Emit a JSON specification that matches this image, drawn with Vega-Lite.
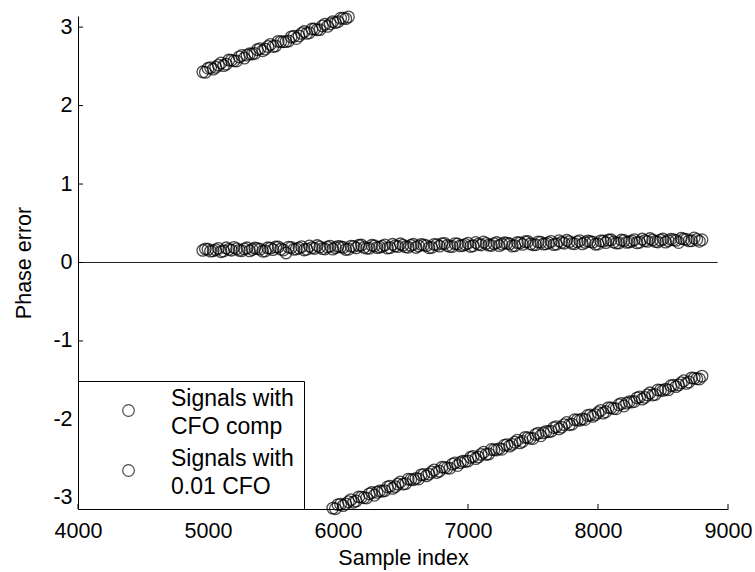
{
  "$schema": "https://vega.github.io/schema/vega-lite/v6.json",
  "width": 650,
  "height": 493,
  "autosize": {"type": "none"},
  "padding": {"left": 78, "top": 16, "right": 27, "bottom": 63},
  "background": "white",
  "config": {
    "font": "Liberation Sans",
    "view": {"stroke": null},
    "style": {"guide-label": {"lineHeight": 28}},
    "axis": {
      "grid": false,
      "domainColor": "black",
      "domainWidth": 1,
      "ticks": false,
      "labelFont": "Liberation Sans",
      "labelFontSize": 21.5,
      "labelColor": "black",
      "titleFont": "Liberation Sans",
      "titleFontSize": 21.5,
      "titleFontWeight": "normal",
      "titleColor": "black"
    }
  },
  "datasets": {
    "zero": [{"x0": 4000, "x1": 8920, "y": 0}],
    "xticks": [{"v": 4000}, {"v": 5000}, {"v": 6000}, {"v": 7000}, {"v": 8000}, {"v": 9000}],
    "yticks": [{"v": -3}, {"v": -2}, {"v": -1}, {"v": 0}, {"v": 1}, {"v": 2}, {"v": 3}],
    "pts": [
      {"x": 4960, "y": 0.155, "s": "A"}, {"x": 5000, "y": 0.168, "s": "A"}, {"x": 5040, "y": 0.150, "s": "A"}, {"x": 5080, "y": 0.179, "s": "A"},
      {"x": 5120, "y": 0.146, "s": "A"}, {"x": 5160, "y": 0.167, "s": "A"}, {"x": 5200, "y": 0.193, "s": "A"}, {"x": 5240, "y": 0.155, "s": "A"},
      {"x": 5280, "y": 0.174, "s": "A"}, {"x": 5320, "y": 0.148, "s": "A"}, {"x": 5360, "y": 0.184, "s": "A"}, {"x": 5400, "y": 0.170, "s": "A"},
      {"x": 5440, "y": 0.147, "s": "A"}, {"x": 5480, "y": 0.183, "s": "A"}, {"x": 5520, "y": 0.197, "s": "A"}, {"x": 5560, "y": 0.171, "s": "A"},
      {"x": 5600, "y": 0.122, "s": "A"}, {"x": 5640, "y": 0.191, "s": "A"}, {"x": 5680, "y": 0.172, "s": "A"}, {"x": 5720, "y": 0.202, "s": "A"},
      {"x": 5760, "y": 0.168, "s": "A"}, {"x": 5800, "y": 0.189, "s": "A"}, {"x": 5840, "y": 0.216, "s": "A"}, {"x": 5880, "y": 0.177, "s": "A"},
      {"x": 5920, "y": 0.197, "s": "A"}, {"x": 5960, "y": 0.170, "s": "A"}, {"x": 6000, "y": 0.206, "s": "A"}, {"x": 6040, "y": 0.193, "s": "A"},
      {"x": 6080, "y": 0.169, "s": "A"}, {"x": 6120, "y": 0.206, "s": "A"}, {"x": 6160, "y": 0.219, "s": "A"}, {"x": 6200, "y": 0.193, "s": "A"},
      {"x": 6240, "y": 0.182, "s": "A"}, {"x": 6280, "y": 0.213, "s": "A"}, {"x": 6320, "y": 0.195, "s": "A"}, {"x": 6360, "y": 0.224, "s": "A"},
      {"x": 6400, "y": 0.190, "s": "A"}, {"x": 6440, "y": 0.212, "s": "A"}, {"x": 6480, "y": 0.238, "s": "A"}, {"x": 6520, "y": 0.200, "s": "A"},
      {"x": 6560, "y": 0.219, "s": "A"}, {"x": 6600, "y": 0.192, "s": "A"}, {"x": 6640, "y": 0.229, "s": "A"}, {"x": 6680, "y": 0.215, "s": "A"},
      {"x": 6720, "y": 0.192, "s": "A"}, {"x": 6760, "y": 0.228, "s": "A"}, {"x": 6800, "y": 0.241, "s": "A"}, {"x": 6840, "y": 0.216, "s": "A"},
      {"x": 6880, "y": 0.204, "s": "A"}, {"x": 6920, "y": 0.236, "s": "A"}, {"x": 6960, "y": 0.217, "s": "A"}, {"x": 7000, "y": 0.246, "s": "A"},
      {"x": 7040, "y": 0.213, "s": "A"}, {"x": 7080, "y": 0.234, "s": "A"}, {"x": 7120, "y": 0.261, "s": "A"}, {"x": 7160, "y": 0.222, "s": "A"},
      {"x": 7200, "y": 0.241, "s": "A"}, {"x": 7240, "y": 0.215, "s": "A"}, {"x": 7280, "y": 0.251, "s": "A"}, {"x": 7320, "y": 0.238, "s": "A"},
      {"x": 7360, "y": 0.214, "s": "A"}, {"x": 7400, "y": 0.250, "s": "A"}, {"x": 7440, "y": 0.264, "s": "A"}, {"x": 7480, "y": 0.238, "s": "A"},
      {"x": 7520, "y": 0.227, "s": "A"}, {"x": 7560, "y": 0.258, "s": "A"}, {"x": 7600, "y": 0.239, "s": "A"}, {"x": 7640, "y": 0.269, "s": "A"},
      {"x": 7680, "y": 0.235, "s": "A"}, {"x": 7720, "y": 0.257, "s": "A"}, {"x": 7760, "y": 0.283, "s": "A"}, {"x": 7800, "y": 0.244, "s": "A"},
      {"x": 7840, "y": 0.264, "s": "A"}, {"x": 7880, "y": 0.237, "s": "A"}, {"x": 7920, "y": 0.274, "s": "A"}, {"x": 7960, "y": 0.260, "s": "A"},
      {"x": 8000, "y": 0.236, "s": "A"}, {"x": 8040, "y": 0.273, "s": "A"}, {"x": 8080, "y": 0.286, "s": "A"}, {"x": 8120, "y": 0.261, "s": "A"},
      {"x": 8160, "y": 0.249, "s": "A"}, {"x": 8200, "y": 0.280, "s": "A"}, {"x": 8240, "y": 0.262, "s": "A"}, {"x": 8280, "y": 0.291, "s": "A"},
      {"x": 8320, "y": 0.258, "s": "A"}, {"x": 8360, "y": 0.279, "s": "A"}, {"x": 8400, "y": 0.305, "s": "A"}, {"x": 8440, "y": 0.267, "s": "A"},
      {"x": 8480, "y": 0.286, "s": "A"}, {"x": 8520, "y": 0.260, "s": "A"}, {"x": 8560, "y": 0.296, "s": "A"}, {"x": 8600, "y": 0.282, "s": "A"},
      {"x": 8640, "y": 0.309, "s": "A"}, {"x": 8680, "y": 0.295, "s": "A"}, {"x": 8720, "y": 0.277, "s": "A"}, {"x": 8760, "y": 0.293, "s": "A"},
      {"x": 8800, "y": 0.290, "s": "A"},
      {"x": 4980, "y": 0.174, "s": "A"}, {"x": 5020, "y": 0.145, "s": "A"}, {"x": 5060, "y": 0.163, "s": "A"}, {"x": 5100, "y": 0.138, "s": "A"},
      {"x": 5140, "y": 0.187, "s": "A"}, {"x": 5180, "y": 0.157, "s": "A"}, {"x": 5220, "y": 0.176, "s": "A"}, {"x": 5260, "y": 0.150, "s": "A"},
      {"x": 5300, "y": 0.187, "s": "A"}, {"x": 5340, "y": 0.166, "s": "A"}, {"x": 5380, "y": 0.178, "s": "A"}, {"x": 5420, "y": 0.143, "s": "A"},
      {"x": 5460, "y": 0.187, "s": "A"}, {"x": 5500, "y": 0.164, "s": "A"}, {"x": 5540, "y": 0.199, "s": "A"}, {"x": 5580, "y": 0.159, "s": "A"},
      {"x": 5620, "y": 0.196, "s": "A"}, {"x": 5660, "y": 0.168, "s": "A"}, {"x": 5700, "y": 0.185, "s": "A"}, {"x": 5740, "y": 0.160, "s": "A"},
      {"x": 5780, "y": 0.210, "s": "A"}, {"x": 5820, "y": 0.179, "s": "A"}, {"x": 5860, "y": 0.199, "s": "A"}, {"x": 5900, "y": 0.172, "s": "A"},
      {"x": 5940, "y": 0.209, "s": "A"}, {"x": 5980, "y": 0.189, "s": "A"}, {"x": 6020, "y": 0.200, "s": "A"}, {"x": 6060, "y": 0.166, "s": "A"},
      {"x": 6100, "y": 0.209, "s": "A"}, {"x": 6140, "y": 0.186, "s": "A"}, {"x": 6180, "y": 0.222, "s": "A"}, {"x": 6220, "y": 0.181, "s": "A"},
      {"x": 6260, "y": 0.219, "s": "A"}, {"x": 6300, "y": 0.190, "s": "A"}, {"x": 6340, "y": 0.207, "s": "A"}, {"x": 6380, "y": 0.183, "s": "A"},
      {"x": 6420, "y": 0.232, "s": "A"}, {"x": 6460, "y": 0.202, "s": "A"}, {"x": 6500, "y": 0.221, "s": "A"}, {"x": 6540, "y": 0.194, "s": "A"},
      {"x": 6580, "y": 0.232, "s": "A"}, {"x": 6620, "y": 0.211, "s": "A"}, {"x": 6660, "y": 0.223, "s": "A"}, {"x": 6700, "y": 0.188, "s": "A"},
      {"x": 6740, "y": 0.231, "s": "A"}, {"x": 6780, "y": 0.209, "s": "A"}, {"x": 6820, "y": 0.244, "s": "A"}, {"x": 6860, "y": 0.204, "s": "A"},
      {"x": 6900, "y": 0.241, "s": "A"}, {"x": 6940, "y": 0.212, "s": "A"}, {"x": 6980, "y": 0.230, "s": "A"}, {"x": 7020, "y": 0.205, "s": "A"},
      {"x": 7060, "y": 0.255, "s": "A"}, {"x": 7100, "y": 0.224, "s": "A"}, {"x": 7140, "y": 0.243, "s": "A"}, {"x": 7180, "y": 0.217, "s": "A"},
      {"x": 7220, "y": 0.254, "s": "A"}, {"x": 7260, "y": 0.234, "s": "A"}, {"x": 7300, "y": 0.245, "s": "A"}, {"x": 7340, "y": 0.210, "s": "A"},
      {"x": 7380, "y": 0.254, "s": "A"}, {"x": 7420, "y": 0.231, "s": "A"}, {"x": 7460, "y": 0.267, "s": "A"}, {"x": 7500, "y": 0.226, "s": "A"},
      {"x": 7540, "y": 0.263, "s": "A"}, {"x": 7580, "y": 0.235, "s": "A"}, {"x": 7620, "y": 0.252, "s": "A"}, {"x": 7660, "y": 0.228, "s": "A"},
      {"x": 7700, "y": 0.277, "s": "A"}, {"x": 7740, "y": 0.246, "s": "A"}, {"x": 7780, "y": 0.266, "s": "A"}, {"x": 7820, "y": 0.239, "s": "A"},
      {"x": 7860, "y": 0.277, "s": "A"}, {"x": 7900, "y": 0.256, "s": "A"}, {"x": 7940, "y": 0.267, "s": "A"}, {"x": 7980, "y": 0.233, "s": "A"},
      {"x": 8020, "y": 0.276, "s": "A"}, {"x": 8060, "y": 0.254, "s": "A"}, {"x": 8100, "y": 0.289, "s": "A"}, {"x": 8140, "y": 0.248, "s": "A"},
      {"x": 8180, "y": 0.286, "s": "A"}, {"x": 8220, "y": 0.257, "s": "A"}, {"x": 8260, "y": 0.275, "s": "A"}, {"x": 8300, "y": 0.250, "s": "A"},
      {"x": 8340, "y": 0.299, "s": "A"}, {"x": 8380, "y": 0.269, "s": "A"}, {"x": 8420, "y": 0.288, "s": "A"}, {"x": 8460, "y": 0.262, "s": "A"},
      {"x": 8500, "y": 0.299, "s": "A"}, {"x": 8540, "y": 0.278, "s": "A"}, {"x": 8580, "y": 0.290, "s": "A"}, {"x": 8620, "y": 0.255, "s": "A"},
      {"x": 8660, "y": 0.299, "s": "A"}, {"x": 8700, "y": 0.276, "s": "A"}, {"x": 8740, "y": 0.312, "s": "A"}, {"x": 8780, "y": 0.271, "s": "A"},

      {"x": 4960, "y": 2.430, "s": "B"}, {"x": 5000, "y": 2.475, "s": "B"}, {"x": 5040, "y": 2.465, "s": "B"}, {"x": 5080, "y": 2.515, "s": "B"},
      {"x": 5120, "y": 2.510, "s": "B"}, {"x": 5160, "y": 2.580, "s": "B"}, {"x": 5200, "y": 2.570, "s": "B"}, {"x": 5240, "y": 2.620, "s": "B"},
      {"x": 5280, "y": 2.605, "s": "B"}, {"x": 5320, "y": 2.660, "s": "B"}, {"x": 5360, "y": 2.665, "s": "B"}, {"x": 5400, "y": 2.725, "s": "B"},
      {"x": 5440, "y": 2.720, "s": "B"}, {"x": 5480, "y": 2.780, "s": "B"}, {"x": 5520, "y": 2.760, "s": "B"}, {"x": 5560, "y": 2.815, "s": "B"},
      {"x": 5600, "y": 2.815, "s": "B"}, {"x": 5640, "y": 2.875, "s": "B"}, {"x": 5680, "y": 2.855, "s": "B"}, {"x": 5720, "y": 2.920, "s": "B"},
      {"x": 5760, "y": 2.920, "s": "B"}, {"x": 5800, "y": 2.975, "s": "B"}, {"x": 5840, "y": 2.965, "s": "B"}, {"x": 5880, "y": 3.015, "s": "B"},
      {"x": 5920, "y": 3.010, "s": "B"}, {"x": 5960, "y": 3.070, "s": "B"}, {"x": 6000, "y": 3.070, "s": "B"}, {"x": 6040, "y": 3.115, "s": "B"},
      {"x": 6080, "y": 3.130, "s": "B"},
      {"x": 4980, "y": 2.423, "s": "B"}, {"x": 5020, "y": 2.483, "s": "B"}, {"x": 5060, "y": 2.488, "s": "B"}, {"x": 5100, "y": 2.543, "s": "B"},
      {"x": 5140, "y": 2.528, "s": "B"}, {"x": 5180, "y": 2.578, "s": "B"}, {"x": 5220, "y": 2.568, "s": "B"}, {"x": 5260, "y": 2.638, "s": "B"},
      {"x": 5300, "y": 2.643, "s": "B"}, {"x": 5340, "y": 2.658, "s": "B"}, {"x": 5380, "y": 2.713, "s": "B"}, {"x": 5420, "y": 2.698, "s": "B"},
      {"x": 5460, "y": 2.753, "s": "B"}, {"x": 5500, "y": 2.753, "s": "B"}, {"x": 5540, "y": 2.818, "s": "B"}, {"x": 5580, "y": 2.813, "s": "B"},
      {"x": 5620, "y": 2.823, "s": "B"}, {"x": 5660, "y": 2.883, "s": "B"}, {"x": 5700, "y": 2.888, "s": "B"}, {"x": 5740, "y": 2.943, "s": "B"},
      {"x": 5780, "y": 2.928, "s": "B"}, {"x": 5820, "y": 2.978, "s": "B"}, {"x": 5860, "y": 2.968, "s": "B"}, {"x": 5900, "y": 3.038, "s": "B"},
      {"x": 5940, "y": 3.043, "s": "B"}, {"x": 5980, "y": 3.058, "s": "B"}, {"x": 6020, "y": 3.113, "s": "B"}, {"x": 6060, "y": 3.108, "s": "B"},

      {"x": 5960, "y": -3.130, "s": "B"}, {"x": 6000, "y": -3.086, "s": "B"}, {"x": 6040, "y": -3.098, "s": "B"}, {"x": 6080, "y": -3.049, "s": "B"},
      {"x": 6120, "y": -3.055, "s": "B"}, {"x": 6160, "y": -2.987, "s": "B"}, {"x": 6200, "y": -2.998, "s": "B"}, {"x": 6240, "y": -2.949, "s": "B"},
      {"x": 6280, "y": -2.966, "s": "B"}, {"x": 6320, "y": -2.912, "s": "B"}, {"x": 6360, "y": -2.908, "s": "B"}, {"x": 6400, "y": -2.850, "s": "B"},
      {"x": 6440, "y": -2.856, "s": "B"}, {"x": 6480, "y": -2.797, "s": "B"}, {"x": 6520, "y": -2.818, "s": "B"}, {"x": 6560, "y": -2.765, "s": "B"},
      {"x": 6600, "y": -2.751, "s": "B"}, {"x": 6640, "y": -2.707, "s": "B"}, {"x": 6680, "y": -2.719, "s": "B"}, {"x": 6720, "y": -2.670, "s": "B"},
      {"x": 6760, "y": -2.676, "s": "B"}, {"x": 6800, "y": -2.608, "s": "B"}, {"x": 6840, "y": -2.619, "s": "B"}, {"x": 6880, "y": -2.570, "s": "B"},
      {"x": 6920, "y": -2.587, "s": "B"}, {"x": 6960, "y": -2.533, "s": "B"}, {"x": 7000, "y": -2.529, "s": "B"}, {"x": 7040, "y": -2.471, "s": "B"},
      {"x": 7080, "y": -2.477, "s": "B"}, {"x": 7120, "y": -2.418, "s": "B"}, {"x": 7160, "y": -2.440, "s": "B"}, {"x": 7200, "y": -2.386, "s": "B"},
      {"x": 7240, "y": -2.372, "s": "B"}, {"x": 7280, "y": -2.329, "s": "B"}, {"x": 7320, "y": -2.340, "s": "B"}, {"x": 7360, "y": -2.291, "s": "B"},
      {"x": 7400, "y": -2.298, "s": "B"}, {"x": 7440, "y": -2.229, "s": "B"}, {"x": 7480, "y": -2.240, "s": "B"}, {"x": 7520, "y": -2.191, "s": "B"},
      {"x": 7560, "y": -2.208, "s": "B"}, {"x": 7600, "y": -2.154, "s": "B"}, {"x": 7640, "y": -2.150, "s": "B"}, {"x": 7680, "y": -2.092, "s": "B"},
      {"x": 7720, "y": -2.098, "s": "B"}, {"x": 7760, "y": -2.039, "s": "B"}, {"x": 7800, "y": -2.061, "s": "B"}, {"x": 7840, "y": -2.007, "s": "B"},
      {"x": 7880, "y": -1.993, "s": "B"}, {"x": 7920, "y": -1.950, "s": "B"}, {"x": 7960, "y": -1.961, "s": "B"}, {"x": 8000, "y": -1.912, "s": "B"},
      {"x": 8040, "y": -1.919, "s": "B"}, {"x": 8080, "y": -1.850, "s": "B"}, {"x": 8120, "y": -1.861, "s": "B"}, {"x": 8160, "y": -1.813, "s": "B"},
      {"x": 8200, "y": -1.829, "s": "B"}, {"x": 8240, "y": -1.775, "s": "B"}, {"x": 8280, "y": -1.772, "s": "B"}, {"x": 8320, "y": -1.713, "s": "B"},
      {"x": 8360, "y": -1.719, "s": "B"}, {"x": 8400, "y": -1.661, "s": "B"}, {"x": 8440, "y": -1.682, "s": "B"}, {"x": 8480, "y": -1.628, "s": "B"},
      {"x": 8520, "y": -1.614, "s": "B"}, {"x": 8560, "y": -1.571, "s": "B"}, {"x": 8600, "y": -1.582, "s": "B"}, {"x": 8640, "y": -1.533, "s": "B"},
      {"x": 8680, "y": -1.540, "s": "B"}, {"x": 8720, "y": -1.471, "s": "B"}, {"x": 8760, "y": -1.482, "s": "B"}, {"x": 8800, "y": -1.449, "s": "B"},
      {"x": 5980, "y": -3.138, "s": "B"}, {"x": 6020, "y": -3.080, "s": "B"}, {"x": 6060, "y": -3.076, "s": "B"}, {"x": 6100, "y": -3.022, "s": "B"},
      {"x": 6140, "y": -3.038, "s": "B"}, {"x": 6180, "y": -2.990, "s": "B"}, {"x": 6220, "y": -3.001, "s": "B"}, {"x": 6260, "y": -2.932, "s": "B"},
      {"x": 6300, "y": -2.929, "s": "B"}, {"x": 6340, "y": -2.915, "s": "B"}, {"x": 6380, "y": -2.861, "s": "B"}, {"x": 6420, "y": -2.878, "s": "B"},
      {"x": 6460, "y": -2.824, "s": "B"}, {"x": 6500, "y": -2.825, "s": "B"}, {"x": 6540, "y": -2.762, "s": "B"}, {"x": 6580, "y": -2.768, "s": "B"},
      {"x": 6620, "y": -2.759, "s": "B"}, {"x": 6660, "y": -2.701, "s": "B"}, {"x": 6700, "y": -2.697, "s": "B"}, {"x": 6740, "y": -2.643, "s": "B"},
      {"x": 6780, "y": -2.660, "s": "B"}, {"x": 6820, "y": -2.611, "s": "B"}, {"x": 6860, "y": -2.622, "s": "B"}, {"x": 6900, "y": -2.554, "s": "B"},
      {"x": 6940, "y": -2.550, "s": "B"}, {"x": 6980, "y": -2.536, "s": "B"}, {"x": 7020, "y": -2.483, "s": "B"}, {"x": 7060, "y": -2.499, "s": "B"},
      {"x": 7100, "y": -2.445, "s": "B"}, {"x": 7140, "y": -2.446, "s": "B"}, {"x": 7180, "y": -2.383, "s": "B"}, {"x": 7220, "y": -2.389, "s": "B"},
      {"x": 7260, "y": -2.380, "s": "B"}, {"x": 7300, "y": -2.322, "s": "B"}, {"x": 7340, "y": -2.318, "s": "B"}, {"x": 7380, "y": -2.264, "s": "B"},
      {"x": 7420, "y": -2.281, "s": "B"}, {"x": 7460, "y": -2.232, "s": "B"}, {"x": 7500, "y": -2.243, "s": "B"}, {"x": 7540, "y": -2.175, "s": "B"},
      {"x": 7580, "y": -2.171, "s": "B"}, {"x": 7620, "y": -2.157, "s": "B"}, {"x": 7660, "y": -2.104, "s": "B"}, {"x": 7700, "y": -2.120, "s": "B"},
      {"x": 7740, "y": -2.066, "s": "B"}, {"x": 7780, "y": -2.068, "s": "B"}, {"x": 7820, "y": -2.004, "s": "B"}, {"x": 7860, "y": -2.010, "s": "B"},
      {"x": 7900, "y": -2.001, "s": "B"}, {"x": 7940, "y": -1.943, "s": "B"}, {"x": 7980, "y": -1.939, "s": "B"}, {"x": 8020, "y": -1.885, "s": "B"},
      {"x": 8060, "y": -1.902, "s": "B"}, {"x": 8100, "y": -1.853, "s": "B"}, {"x": 8140, "y": -1.864, "s": "B"}, {"x": 8180, "y": -1.796, "s": "B"},
      {"x": 8220, "y": -1.792, "s": "B"}, {"x": 8260, "y": -1.778, "s": "B"}, {"x": 8300, "y": -1.725, "s": "B"}, {"x": 8340, "y": -1.741, "s": "B"},
      {"x": 8380, "y": -1.687, "s": "B"}, {"x": 8420, "y": -1.689, "s": "B"}, {"x": 8460, "y": -1.625, "s": "B"}, {"x": 8500, "y": -1.631, "s": "B"},
      {"x": 8540, "y": -1.623, "s": "B"}, {"x": 8580, "y": -1.564, "s": "B"}, {"x": 8620, "y": -1.560, "s": "B"}, {"x": 8660, "y": -1.507, "s": "B"},
      {"x": 8700, "y": -1.523, "s": "B"}, {"x": 8740, "y": -1.474, "s": "B"}, {"x": 8780, "y": -1.485, "s": "B"}
    ]
  },
  "layer": [
    {
      "data": {"name": "zero"},
      "mark": {"type": "rule", "color": "#222222", "strokeWidth": 1},
      "encoding": {
        "x": {"field": "x0", "type": "quantitative", "scale": {"domain": [4000, 9000], "nice": false, "zero": false}},
        "x2": {"field": "x1"},
        "y": {"field": "y", "type": "quantitative", "scale": {"domain": [-3.1416, 3.1416], "nice": false, "zero": false}}
      }
    },
    {
      "data": {"name": "xticks"},
      "mark": {"type": "rule", "color": "black", "strokeWidth": 1},
      "encoding": {
        "x": {"field": "v", "type": "quantitative"},
        "y": {"datum": -3.1416, "type": "quantitative"},
        "y2": {"datum": -3.078}
      }
    },
    {
      "data": {"name": "yticks"},
      "mark": {"type": "rule", "color": "black", "strokeWidth": 1},
      "encoding": {
        "y": {"field": "v", "type": "quantitative"},
        "x": {"datum": 4000, "type": "quantitative"},
        "x2": {"datum": 4038}
      }
    },
    {
      "data": {"name": "pts"},
      "mark": {"type": "point", "shape": "circle", "filled": false, "size": 135, "strokeWidth": 1.3, "clip": false},
      "encoding": {
        "x": {
          "field": "x", "type": "quantitative",
          "scale": {"domain": [4000, 9000], "nice": false, "zero": false},
          "axis": {"title": "Sample index", "values": [4000, 5000, 6000, 7000, 8000, 9000], "format": "d", "labelPadding": 11, "titlePadding": 6, "labelFlush": false, "labelOverlap": false}
        },
        "y": {
          "field": "y", "type": "quantitative",
          "scale": {"domain": [-3.1416, 3.1416], "nice": false, "zero": false},
          "axis": {"title": "Phase error", "values": [-3, -2, -1, 0, 1, 2, 3], "labelExpr": "toString(datum.value)", "labelPadding": 6, "titlePadding": 17, "labelFlush": false, "labelOverlap": false}
        },
        "color": {
          "field": "s", "type": "nominal",
          "scale": {"domain": ["A", "B"], "range": ["black", "black"]},
          "legend": {
            "orient": "bottom-left",
            "offset": 0,
            "title": "\u2003\u2003\u2003\u2003\u2003\u2003\u2003\u2003\u2003\u2003\u2003\u2003\u2003\u2003\u2003\u2003\u2003\u2003\u2003\u2003\u2003\u2003\u2003\u2003\u2003\u2003",
            "titleOrient": "top",
            "titleOpacity": 0,
            "titleFontSize": 8,
            "titleLimit": 1000,
            "titlePadding": 0,
            "strokeColor": "black",
            "fillColor": "white",
            "padding": 10,
            "symbolType": "circle",
            "symbolSize": 135,
            "symbolStrokeWidth": 1.2,
            "symbolStrokeColor": "black",
            "symbolOffset": 29,
            "labelOffset": 31,
            "labelFont": "Liberation Sans",
            "labelFontSize": 23,
            "labelBaseline": "bottom",
            "labelColor": "black",
            "labelLimit": 400,
            "rowPadding": 8,
            "labelExpr": "datum.value == 'A' ? ['Signals with', 'CFO comp'] : ['Signals with', '0.01 CFO']"
          }
        }
      }
    }
  ]
}
